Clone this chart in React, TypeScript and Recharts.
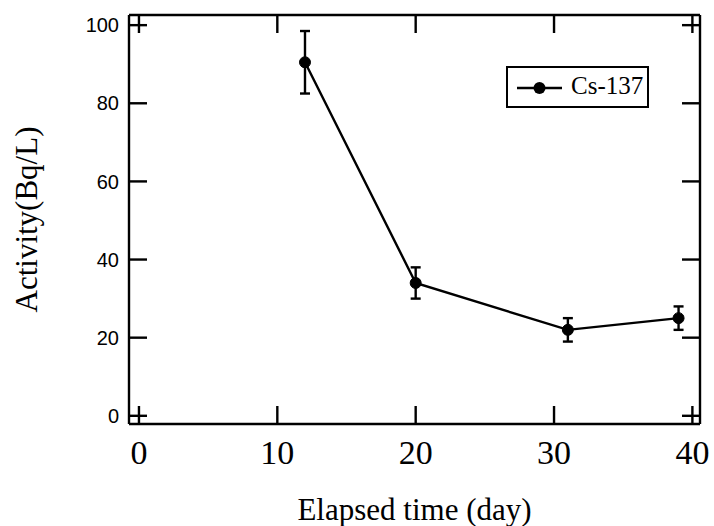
import { ComposedChart, Line, XAxis, YAxis, ErrorBar, Legend, Label } from "recharts";

const days = [12, 20, 31, 39];
const activity = [90.5, 34, 22, 25];
const errors = [8, 4, 3, 3];

const xTicks = [0, 10, 20, 30, 40];
const yTicks = [0, 20, 40, 60, 80, 100];

const data = days.map((day, i) => ({ day, activity: activity[i], err: errors[i] }));

const serif = "'Liberation Serif', 'Times New Roman', serif";
const sans = "'Liberation Sans', Arial, sans-serif";
const black = "#000";

const frame = { stroke: black, strokeWidth: 2.4 };

// mirrored axes keep their tick marks but show no text
const NoLabel = () => <g />;

function YTitle({ viewBox }: any) {
  const x = viewBox.x + 37;
  const y = viewBox.y + viewBox.height / 2;
  return (
    <text
      x={x}
      y={y}
      transform={`rotate(-90, ${x}, ${y})`}
      textAnchor="middle"
      fontFamily={serif}
      fontSize={31}
      fill={black}
    >
      Activity(Bq/L)
    </text>
  );
}

function LegendBox() {
  return (
    <div
      style={{
        position: "relative",
        width: 143,
        height: 42,
        boxSizing: "border-box",
        border: "2px solid #000",
        background: "#fff",
      }}
    >
      <svg width={60} height={38} style={{ position: "absolute", left: 0, top: 0 }}>
        <line x1={9} y1={20} x2={54} y2={20} stroke={black} strokeWidth={2.4} />
        <circle cx={31.5} cy={20} r={6} fill={black} />
      </svg>
      <span
        style={{
          position: "absolute",
          left: 63,
          top: 3,
          fontFamily: serif,
          fontSize: 25,
          lineHeight: "30px",
          color: black,
        }}
      >
        Cs-137
      </span>
    </div>
  );
}

export default function App() {
  return (
    <div style={{ position: "absolute", left: 0, top: 0, background: "#fff" }}>
      <ComposedChart width={714} height={526} data={data} margin={{ top: 0, right: 0, bottom: 0, left: 0 }}>
        <XAxis
          xAxisId="bottom"
          dataKey="day"
          type="number"
          domain={[-0.72, 40.55]}
          allowDataOverflow
          ticks={xTicks}
          interval={0}
          height={102}
          axisLine={frame}
          tickLine={frame}
          tickSize={-18}
          tickMargin={34}
          tick={{ fill: black, fontFamily: serif, fontSize: 34 }}
        >
          <Label
            value="Elapsed time (day)"
            position="insideBottom"
            offset={6}
            fill={black}
            fontFamily={serif}
            fontSize={31}
          />
        </XAxis>
        <XAxis
          xAxisId="top"
          orientation="top"
          dataKey="day"
          type="number"
          domain={[-0.72, 40.55]}
          allowDataOverflow
          ticks={xTicks}
          interval={0}
          height={15}
          axisLine={frame}
          tickLine={frame}
          tickSize={-18}
          tick={<NoLabel />}
        />
        <YAxis
          yAxisId="left"
          type="number"
          domain={[-2.1, 102.6]}
          allowDataOverflow
          ticks={yTicks}
          interval={0}
          width={129}
          axisLine={frame}
          tickLine={frame}
          tickSize={-18}
          tickMargin={28}
          tick={{ fill: black, fontFamily: sans, fontSize: 20 }}
        >
          <Label content={<YTitle />} />
        </YAxis>
        <YAxis
          yAxisId="right"
          orientation="right"
          type="number"
          domain={[-2.1, 102.6]}
          allowDataOverflow
          ticks={yTicks}
          interval={0}
          width={14}
          axisLine={frame}
          tickLine={frame}
          tickSize={-18}
          tick={<NoLabel />}
        />
        <Legend
          layout="vertical"
          align="center"
          verticalAlign="middle"
          content={<LegendBox />}
          wrapperStyle={{ left: 506, top: 66, width: 143, height: 42 }}
        />
        {/* mirror axes need a series to pick up their domain */}
        <Line
          xAxisId="top"
          yAxisId="right"
          dataKey="activity"
          stroke="none"
          dot={false}
          activeDot={false}
          legendType="none"
          isAnimationActive={false}
        />
        <Line
          xAxisId="bottom"
          yAxisId="left"
          type="linear"
          dataKey="activity"
          name="Cs-137"
          stroke={black}
          strokeWidth={2.4}
          dot={{ r: 5.5, fill: black, stroke: black, strokeWidth: 1 }}
          activeDot={false}
          isAnimationActive={false}
        >
          <ErrorBar dataKey="err" direction="y" width={5} stroke={black} strokeWidth={2.4} />
        </Line>
      </ComposedChart>
    </div>
  );
}
